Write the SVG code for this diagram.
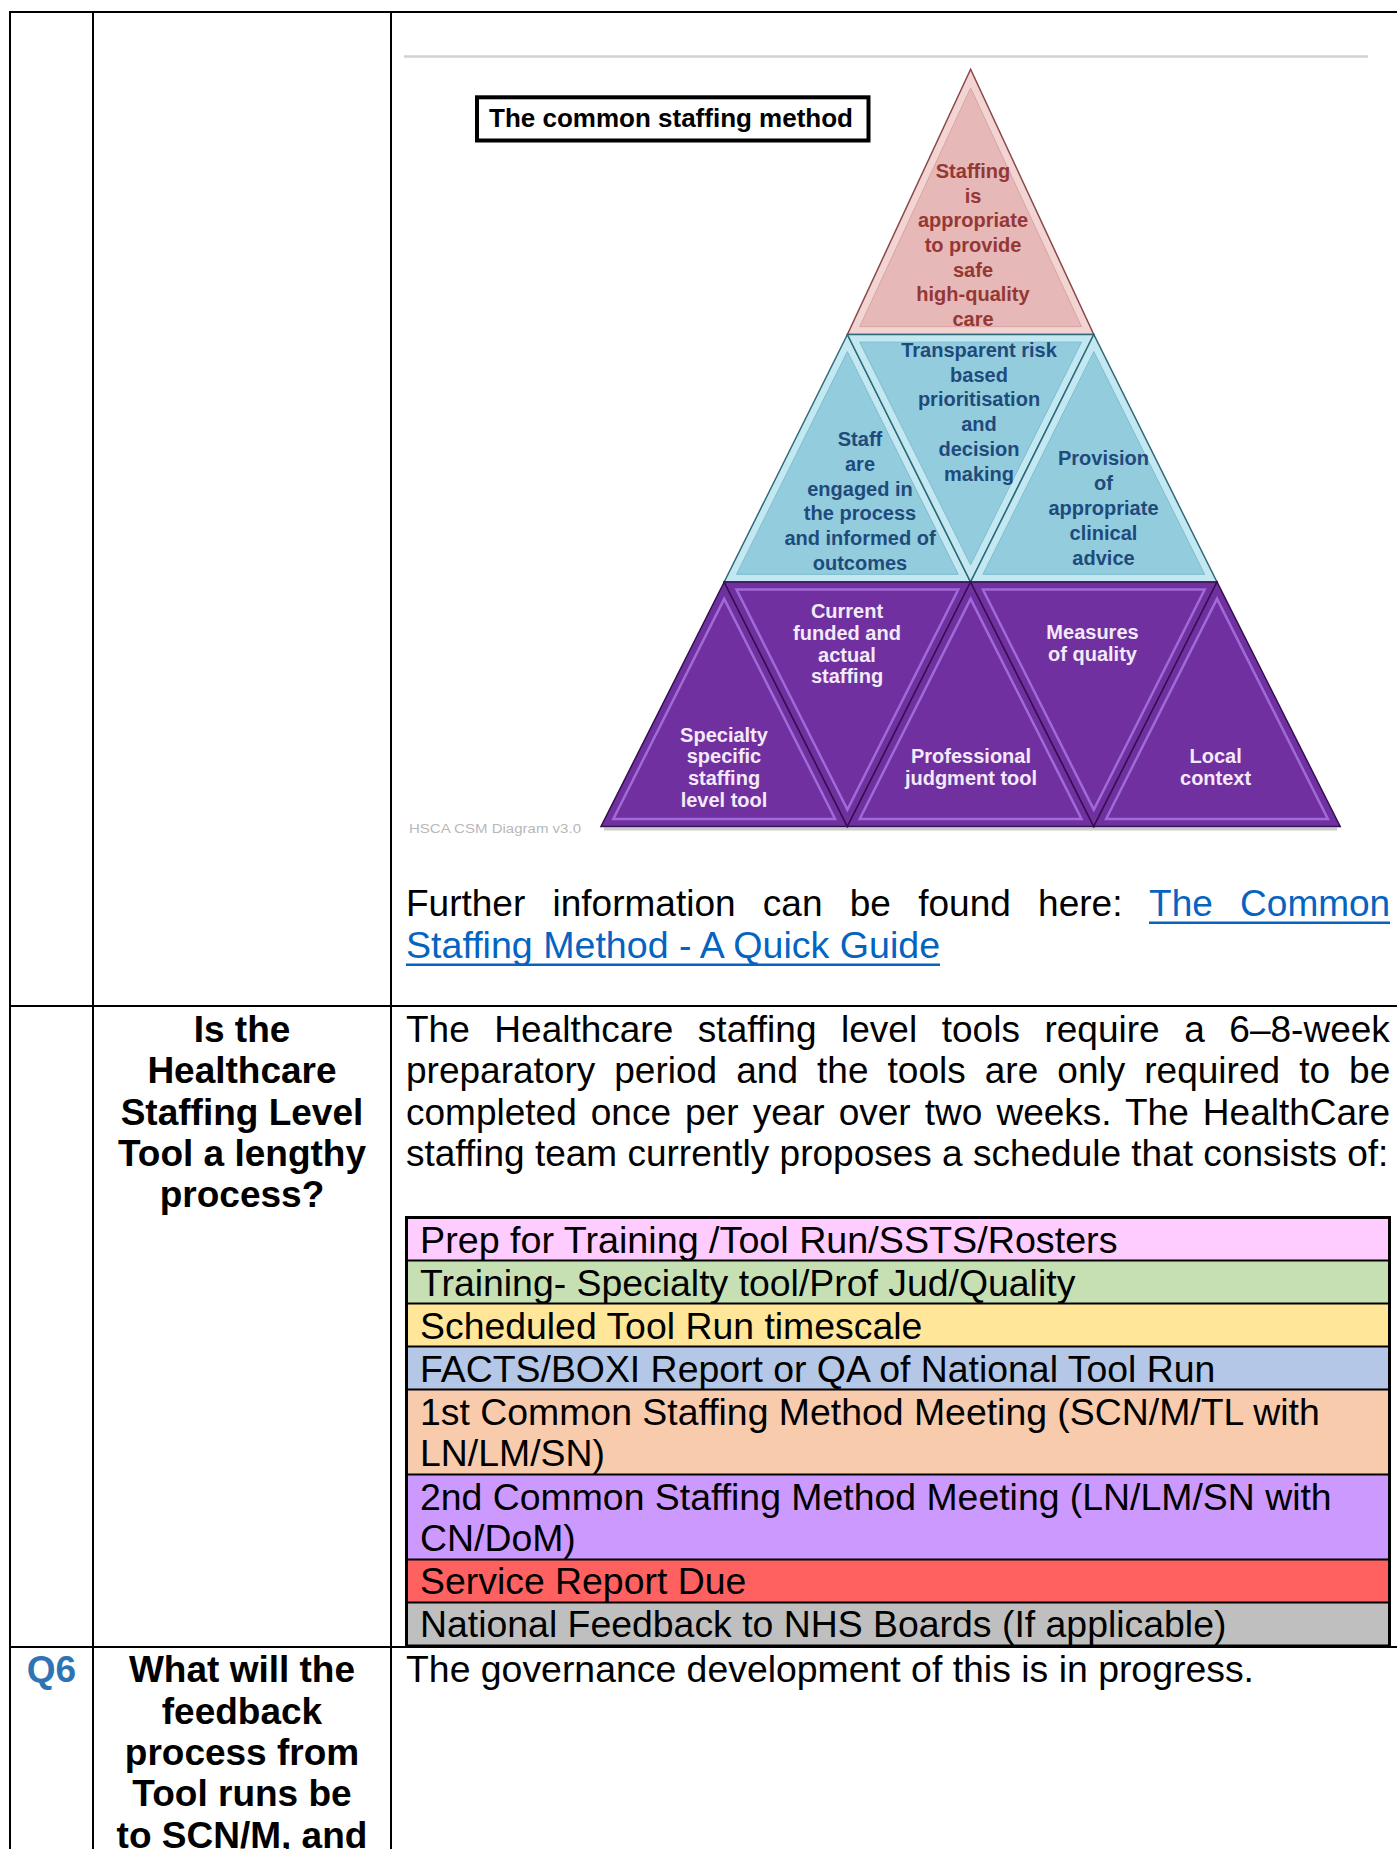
<svg xmlns="http://www.w3.org/2000/svg" width="1397" height="1849" viewBox="0 0 1397 1849">
<style>
.t{font-family:"Liberation Sans",Arial,sans-serif;font-size:37px;fill:#000}
.t2{font-size:37.4px}
.b{font-weight:bold}
.c{text-anchor:middle}
.grid{stroke:#000;stroke-width:2;fill:none}
.sep{stroke:#000;stroke-width:2}
.py{font-family:"Liberation Sans",Arial,sans-serif;font-size:20px;font-weight:bold;text-anchor:middle}
.pk{fill:#953735}
.bl{fill:#1F4A7C}
.pu{fill:#F3EAF9}
.pkO{fill:#F2D4D3;stroke:#8A4848;stroke-width:1.5}
.pkI{fill:#E6B8B7;stroke:#D9A3A2;stroke-width:1}
.blO{fill:#C4E8F1;stroke:#2E6A7A;stroke-width:1.5}
.blI{fill:#93CDDD;stroke:#7DBDCF;stroke-width:1}
.puO{fill:#7030A0;stroke:#34104F;stroke-width:1.5}
.puI{fill:none;stroke:#A06BD6;stroke-width:2.5}
.link{fill:#0563C1}
</style>

<g id="table-grid">
  <line class="grid" x1="9" y1="12" x2="1397" y2="12"/>
  <line class="grid" x1="10" y1="12" x2="10" y2="1849"/>
  <line class="grid" x1="93" y1="12" x2="93" y2="1849"/>
  <line class="grid" x1="391" y1="12" x2="391" y2="1849"/>
  <line class="grid" x1="10" y1="1006" x2="1397" y2="1006"/>
  <line class="grid" x1="10" y1="1647" x2="1397" y2="1647"/>
</g>

<g id="csm-diagram">
  <line x1="404" y1="56.5" x2="1368" y2="56.5" stroke="#d2d2d2" stroke-width="2.5"/>
  <g id="title-box">
    <rect x="477" y="97.3" width="391.5" height="43.2" fill="#fff" stroke="#000" stroke-width="4"/>
    <text class="t b" x="489" y="127" style="font-size:26px">The common staffing method</text>
  </g>

  <g id="shadow">
    <line x1="604" y1="829" x2="1337" y2="829" stroke="#9a9a9a" stroke-width="3" opacity="0.5"/>
  </g>

  <g id="tier-top">
    <polygon class="pkO" points="970.6,69.3 847.4,334.5 1093.8,334.5"/>
    <polygon class="pkI" points="970.6,87.96 859.72,326.64 1081.48,326.64"/>
    <text class="py pk"><tspan x="973" y="178.3">Staffing</tspan><tspan x="973" y="202.9">is</tspan><tspan x="973" y="227.4">appropriate</tspan><tspan x="973" y="252">to provide</tspan><tspan x="973" y="276.6">safe</tspan><tspan x="973" y="301.2">high-quality</tspan><tspan x="973" y="325.7">care</tspan></text>
  </g>

  <g id="tier-mid-left">
    <polygon class="blO" points="847.4,334.5 724.2,582 970.6,582"/>
    <polygon class="blI" points="847.4,351.62 736.52,574.37 958.28,574.37"/>
    <text class="py bl"><tspan x="860" y="445.7">Staff</tspan><tspan x="860" y="470.6">are</tspan><tspan x="860" y="495.5">engaged in</tspan><tspan x="860" y="520.4">the process</tspan><tspan x="860" y="545.3">and informed of</tspan><tspan x="860" y="570.2">outcomes</tspan></text>
  </g>
  <g id="tier-mid-centre">
    <polygon class="blO" points="847.4,334.5 1093.8,334.5 970.6,582"/>
    <polygon class="blI" points="859.72,342.13 1081.48,342.13 970.6,564.88"/>
    <text class="py bl"><tspan x="979" y="356.7">Transparent risk</tspan><tspan x="979" y="381.5">based</tspan><tspan x="979" y="406.3">prioritisation</tspan><tspan x="979" y="431.1">and</tspan><tspan x="979" y="455.9">decision</tspan><tspan x="979" y="480.7">making</tspan></text>
  </g>
  <g id="tier-mid-right">
    <polygon class="blO" points="1093.8,334.5 970.6,582 1217,582"/>
    <polygon class="blI" points="1093.8,351.62 982.92,574.37 1204.68,574.37"/>
    <text class="py bl"><tspan x="1103.5" y="465">Provision</tspan><tspan x="1103.5" y="490">of</tspan><tspan x="1103.5" y="515">appropriate</tspan><tspan x="1103.5" y="540">clinical</tspan><tspan x="1103.5" y="565">advice</tspan></text>
  </g>

  <g id="tier-base-1">
    <polygon class="puO" points="724.2,582 601,826.5 847.4,826.5"/>
    <polygon class="puI" points="724.2,598.86 613.32,818.91 835.08,818.91"/>
    <text class="py pu"><tspan x="724" y="741.7">Specialty</tspan><tspan x="724" y="763.4">specific</tspan><tspan x="724" y="785.1">staffing</tspan><tspan x="724" y="806.8">level tool</tspan></text>
  </g>
  <g id="tier-base-2">
    <polygon class="puO" points="724.2,582 970.6,582 847.4,826.5"/>
    <polygon class="puI" points="736.52,589.59 958.28,589.59 847.4,809.64"/>
    <text class="py pu"><tspan x="847" y="618.3">Current</tspan><tspan x="847" y="639.9">funded and</tspan><tspan x="847" y="661.5">actual</tspan><tspan x="847" y="683.1">staffing</tspan></text>
  </g>
  <g id="tier-base-3">
    <polygon class="puO" points="970.6,582 847.4,826.5 1093.8,826.5"/>
    <polygon class="puI" points="970.6,598.86 859.72,818.91 1081.48,818.91"/>
    <text class="py pu"><tspan x="971" y="763.3">Professional</tspan><tspan x="971" y="785">judgment tool</tspan></text>
  </g>
  <g id="tier-base-4">
    <polygon class="puO" points="970.6,582 1217,582 1093.8,826.5"/>
    <polygon class="puI" points="982.92,589.59 1204.68,589.59 1093.8,809.64"/>
    <text class="py pu"><tspan x="1092.5" y="639.3">Measures</tspan><tspan x="1092.5" y="660.5">of quality</tspan></text>
  </g>
  <g id="tier-base-5">
    <polygon class="puO" points="1217,582 1093.8,826.5 1340.2,826.5"/>
    <polygon class="puI" points="1217,598.86 1106.12,818.91 1327.88,818.91"/>
    <text class="py pu"><tspan x="1215.6" y="763.3">Local</tspan><tspan x="1215.6" y="785">context</tspan></text>
  </g>

  <text x="409" y="833" fill="#b8b8b8" font-family="Liberation Sans, Arial, sans-serif" font-size="12.5" textLength="172" lengthAdjust="spacingAndGlyphs">HSCA CSM Diagram v3.0</text>
</g>

<g id="further-info">
  <text class="t" x="406" y="915.5" word-spacing="17">Further information can be found here: <tspan class="link">The Common</tspan></text>
  <text class="t link" x="406" y="957.5" style="font-size:37.6px">Staffing Method - A Quick Guide</text>
  <rect x="1149" y="921.5" width="241" height="2.5" fill="#0563C1"/>
  <rect x="406" y="963.5" width="534" height="2.5" fill="#0563C1"/>
</g>

<g id="q5-question">
  <text class="t b c"><tspan x="242" y="1042">Is the</tspan><tspan x="242" y="1083.3">Healthcare</tspan><tspan x="242" y="1124.6">Staffing Level</tspan><tspan x="242" y="1165.9">Tool a lengthy</tspan><tspan x="242" y="1207.2">process?</tspan></text>
</g>

<g id="q5-answer">
  <text class="t" x="406" y="1042" word-spacing="14.3">The Healthcare staffing level tools require a 6–8-week</text>
  <text class="t" x="406" y="1083.3" word-spacing="8.8">preparatory period and the tools are only required to be</text>
  <text class="t" x="406" y="1124.6" word-spacing="3.8">completed once per year over two weeks. The HealthCare</text>
  <text class="t" x="406" y="1166">staffing team currently proposes a schedule that consists of:</text>
</g>

<g id="schedule-table">
  <rect x="406.5" y="1217.5" width="983" height="43" fill="#FFCCFF"/>
  <rect x="406.5" y="1260.5" width="983" height="43" fill="#C6E0B4"/>
  <rect x="406.5" y="1303.5" width="983" height="43" fill="#FFE699"/>
  <rect x="406.5" y="1346.5" width="983" height="43" fill="#B4C7E7"/>
  <rect x="406.5" y="1389.5" width="983" height="85" fill="#F8CBAD"/>
  <rect x="406.5" y="1474.5" width="983" height="85" fill="#CC99FF"/>
  <rect x="406.5" y="1559.5" width="983" height="43" fill="#FF6161"/>
  <rect x="406.5" y="1602.5" width="983" height="43.5" fill="#BFBFBF"/>
  <line class="sep" x1="406.5" y1="1260.5" x2="1389.5" y2="1260.5"/>
  <line class="sep" x1="406.5" y1="1303.5" x2="1389.5" y2="1303.5"/>
  <line class="sep" x1="406.5" y1="1346.5" x2="1389.5" y2="1346.5"/>
  <line class="sep" x1="406.5" y1="1389.5" x2="1389.5" y2="1389.5"/>
  <line class="sep" x1="406.5" y1="1474.5" x2="1389.5" y2="1474.5"/>
  <line class="sep" x1="406.5" y1="1559.5" x2="1389.5" y2="1559.5"/>
  <line class="sep" x1="406.5" y1="1602.5" x2="1389.5" y2="1602.5"/>
  <rect x="406.5" y="1217.5" width="983" height="428.5" fill="none" stroke="#000" stroke-width="3"/>
  <text class="t t2" x="420" y="1252.5" style="font-size:37.7px">Prep for Training /Tool Run/SSTS/Rosters</text>
  <text class="t t2" x="420" y="1295.5">Training- Specialty tool/Prof Jud/Quality</text>
  <text class="t t2" x="420" y="1338.5">Scheduled Tool Run timescale</text>
  <text class="t t2" x="420" y="1381.5">FACTS/BOXI Report or QA of National Tool Run</text>
  <text class="t t2" x="420" y="1424.5">1st Common Staffing Method Meeting (SCN/M/TL with</text>
  <text class="t t2" x="420" y="1465.5">LN/LM/SN)</text>
  <text class="t t2" x="420" y="1509.5">2nd Common Staffing Method Meeting (LN/LM/SN with</text>
  <text class="t t2" x="420" y="1550.5">CN/DoM)</text>
  <text class="t t2" x="420" y="1594">Service Report Due</text>
  <text class="t t2" x="420" y="1637">National Feedback to NHS Boards (If applicable)</text>
</g>

<g id="q6">
  <text class="t b c" x="51.5" y="1682.3" style="fill:#2E74B5">Q6</text>
  <text class="t b c"><tspan x="242" y="1682.3">What will the</tspan><tspan x="242" y="1723.6">feedback</tspan><tspan x="242" y="1764.9">process from</tspan><tspan x="242" y="1806.2">Tool runs be</tspan><tspan x="242" y="1847.5">to SCN/M, and</tspan></text>
  <text class="t t2" x="406" y="1682.3">The governance development of this is in progress.</text>
</g>
</svg>
